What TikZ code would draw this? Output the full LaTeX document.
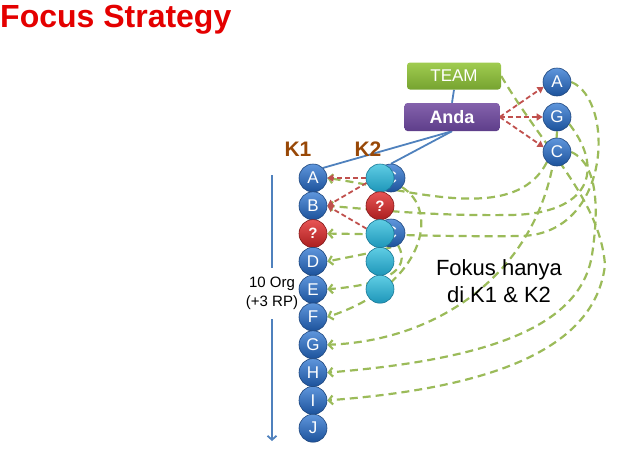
\documentclass[tikz,border=0pt]{standalone}
\usepackage{fontspec}
\setmainfont{Liberation Sans}
\usetikzlibrary{arrows.meta,backgrounds}

\definecolor{titlered}{RGB}{228,0,0}
\definecolor{kbrown}{RGB}{152,72,7}
\definecolor{linkblue}{RGB}{79,129,189}
\definecolor{dashred}{RGB}{192,80,77}
\definecolor{dashgreen}{RGB}{155,187,89}
\definecolor{teamtop}{RGB}{160,204,80}
\definecolor{teambot}{RGB}{118,163,48}
\definecolor{andatop}{RGB}{132,98,172}
\definecolor{andabot}{RGB}{94,62,138}

\tikzset{
  ball/.style={circle, minimum size=28pt, inner sep=0pt, text=white,
    font=\fontsize{17}{17}\selectfont},
  blueball/.style={ball, draw={rgb,255:red,30;green,70;blue,125}, line width=0.6pt,
    top color={rgb,255:red,95;green,150;blue,220}, bottom color={rgb,255:red,28;green,82;blue,155}},
  cyanball/.style={ball, draw={rgb,255:red,25;green,120;blue,150}, line width=0.6pt,
    top color={rgb,255:red,95;green,205;blue,228}, bottom color={rgb,255:red,30;green,150;blue,185}},
  redball/.style={ball, draw={rgb,255:red,130;green,25;blue,25}, line width=0.6pt,
    top color={rgb,255:red,232;green,85;blue,85}, bottom color={rgb,255:red,170;green,30;blue,30},
    font=\bfseries\fontsize{15}{15}\selectfont},
  box/.style={rounded corners=3pt, minimum height=27pt, minimum width=94pt, text=white},
  klabel/.style={text=kbrown, font=\bfseries\fontsize{21}{21}\selectfont},
  reddash/.style={draw=dashred, line width=1.8pt, dash pattern=on 5pt off 3pt,
    -{Triangle[length=6pt,width=7pt]}},
  greendash/.style={draw=dashgreen, line width=2.2pt, dash pattern=on 8pt off 5pt,
    -{Straight Barb[length=4pt,width=9pt]}},
}

\begin{document}
\begin{tikzpicture}[x=1pt,y=-1pt]
    \useasboundingbox (0,0) rectangle (633,464);

    % title
    \node[anchor=base west, inner sep=0pt, text=titlered,
      font=\bfseries\fontsize{32}{32}\selectfont] (title) at (0,27) {Focus Strategy};

    % top boxes
    \node[box, top color=teamtop, bottom color=teambot, font=\fontsize{17}{17}\selectfont]
      (team) at (454,76) {TEAM};
    \node[box, minimum width=95pt, minimum height=28pt, top color=andatop, bottom color=andabot,
      font=\bfseries\fontsize{18}{18}\selectfont] (anda) at (452,117) {Anda};

    % right column
    \node[blueball] (rA) at (557,82)  {A};
    \node[blueball] (rG) at (557,117) {G};
    \node[blueball] (rC) at (557,152) {C};

    % column labels
    \node[klabel] (k1lbl) at (298,149) {K1};
    \node[klabel] (k2lbl) at (368,149) {K2};

    % K1 column
    \foreach \lbl/\sty [count=\i from 0] in
      {A/blueball,B/blueball,?/redball,D/blueball,E/blueball,F/blueball,G/blueball,H/blueball,I/blueball,J/blueball}
      \node[\sty] (k1-\i) at (313,{178+27.8*\i}) {\lbl};

    % K2 column
    \node[blueball] (k2c-0) at (391,178) {C};
    \node[blueball] (k2c-1) at (391,233) {C};
    \foreach \lbl/\sty [count=\i from 0] in
      {/cyanball,?/redball,/cyanball,/cyanball,/cyanball}
      \node[\sty] (k2-\i) at (380,{178+27.8*\i}) {\lbl};

    \node[align=center, font=\fontsize{22}{27}\selectfont] (focus) at (499,281)
      {Fokus hanya\\di K1 \& K2};

    \coordinate (downtop) at (272,175);
    \coordinate (downend) at (272,441);

    \begin{scope}[on background layer]
        % count arrow
        \draw [draw=linkblue, line width=1.8pt, -{Straight Barb[length=4pt,width=9pt]}]
          (downtop) -- node[pos=0.446, fill=white, inner xsep=2pt, inner ysep=9pt, align=center,
          font=\fontsize{15}{19}\selectfont] (orglbl) {10 Org\\(+3 RP)} (downend);

        % blue links
        \draw [draw=linkblue, line width=1.8pt] (team.south) -- (anda.north);
        \draw [draw=linkblue, line width=1.8pt] (anda.south) -- (k1-0.north east);
        \draw [draw=linkblue, line width=1.8pt] (anda.south) -- (k2c-0.north);

        % green dashed links
        \draw [greendash] (rC.225) .. controls (515,225) and (410,190) .. (k1-0.east);
        \draw [greendash] (rG.-30) .. controls (605,170) and (590,214) .. (510,215)
          .. controls (430,216) and (380,210) .. (k1-1.east);
        \draw [greendash] (rA.east) .. controls (615,100) and (612,235) .. (520,236)
          .. controls (450,237) and (380,234) .. (k1-2.east);
        \draw [greendash] (k2c-1.south) .. controls (375,252) .. (k1-3.east);
        \draw [greendash] (k2c-1.-60) .. controls (412,270) and (385,285) .. (k1-4.east);
        \draw [greendash] (k2c-0.-40) .. controls (440,210) and (425,285) .. (k1-5.east);
        \draw [greendash] (rG.south) .. controls (550,260) and (450,340) .. (k1-6.east);
        \draw [greendash] (rC.east) .. controls (600,165) and (598,215) .. (592,255)
          .. controls (580,330) and (480,360) .. (k1-7.east);
        \draw [greendash] (team.east) .. controls (545,150) and (600,200) .. (605,265)
          .. controls (595,350) and (490,388) .. (k1-8.east);

        % red dashed links
        \draw [reddash] (anda.east) -- (rA.200);
        \draw [reddash] (anda.east) -- (rG.west);
        \draw [reddash] (anda.east) -- (rC.160);
        \draw [reddash] (k2-0.west) -- (k1-0.east);
        \draw [reddash] (k2-0.200) -- (k1-1.east);
        \draw [reddash] (k2-2.160) -- (k1-1.east);
    \end{scope}
\end{tikzpicture}
\end{document}
